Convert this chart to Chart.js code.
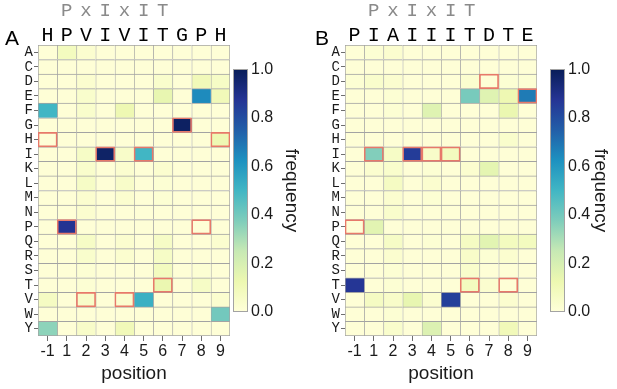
<!DOCTYPE html>
<html>
<head>
<meta charset="utf-8">
<script src="https://cdn.jsdelivr.net/npm/chart.js@4/dist/chart.umd.min.js"></script>
<style>
  body { margin: 0; background: #fff; }
  #wrap { position: relative; width: 617px; height: 389px; overflow: hidden; }
  #wrap canvas { position: absolute; top: 0; }
  .tag { position: absolute; top: 26px; font: 21px 'Liberation Sans', Arial, sans-serif; color: #000; }
</style>
</head>
<body>
<div id="wrap">
  <canvas id="chartA" width="308" height="389" style="left:0"></canvas>
  <canvas id="chartB" width="309" height="389" style="left:308px"></canvas>
  <div class="tag" style="left:5px">A</div>
  <div class="tag" style="left:315px">B</div>
</div>
<script>
var aminoAcids = ['A', 'C', 'D', 'E', 'F', 'G', 'H', 'I', 'K', 'L', 'M', 'N', 'P', 'Q', 'R', 'S', 'T', 'V', 'W', 'Y'];
var positions = ['-1', '1', '2', '3', '4', '5', '6', '7', '8', '9'];
var motifLabels = ['', 'P', 'x', 'I', 'x', 'I', 'T', '', '', ''];
var colorbarTicks = [0, 0.2, 0.4, 0.6, 0.8, 1.0];

var sequenceA = ['H', 'P', 'V', 'I', 'V', 'I', 'T', 'G', 'P', 'H'];
var sequenceB = ['P', 'I', 'A', 'I', 'I', 'I', 'T', 'D', 'T', 'E'];
// residues outlined in red (one per position, '' = none)
var boxedA = ['H', 'P', 'V', 'I', 'V', 'I', 'T', 'G', 'P', 'H'];
var boxedB = ['P', 'I', '', 'I', 'I', 'I', 'T', 'D', 'T', 'E'];

// frequency per amino acid (rows) and position (columns -1..9)
var freqA = [
  [0.01, 0.08, 0.03, 0.01, 0.01, 0.01, 0.01, 0.01, 0.01, 0.01], // A
  [0.01, 0.01, 0.01, 0.01, 0.01, 0.01, 0.01, 0.01, 0.01, 0.01], // C
  [0.01, 0.01, 0.03, 0.01, 0.01, 0.01, 0.04, 0.01, 0.10, 0.06], // D
  [0.01, 0.01, 0.04, 0.01, 0.01, 0.01, 0.14, 0.01, 0.64, 0.10], // E
  [0.50, 0.01, 0.04, 0.01, 0.12, 0.01, 0.01, 0.01, 0.01, 0.01], // F
  [0.01, 0.01, 0.01, 0.01, 0.01, 0.01, 0.01, 0.98, 0.01, 0.01], // G
  [0.01, 0.01, 0.01, 0.01, 0.01, 0.01, 0.01, 0.01, 0.01, 0.12], // H
  [0.01, 0.01, 0.06, 0.97, 0.05, 0.50, 0.01, 0.01, 0.01, 0.01], // I
  [0.01, 0.01, 0.04, 0.01, 0.03, 0.01, 0.03, 0.01, 0.01, 0.01], // K
  [0.01, 0.01, 0.06, 0.01, 0.05, 0.01, 0.02, 0.01, 0.01, 0.01], // L
  [0.01, 0.01, 0.03, 0.01, 0.03, 0.01, 0.02, 0.01, 0.01, 0.01], // M
  [0.01, 0.01, 0.03, 0.01, 0.01, 0.01, 0.01, 0.01, 0.01, 0.01], // N
  [0.01, 0.88, 0.01, 0.01, 0.01, 0.01, 0.01, 0.01, 0.01, 0.01], // P
  [0.01, 0.01, 0.06, 0.01, 0.03, 0.01, 0.06, 0.01, 0.01, 0.03], // Q
  [0.01, 0.01, 0.04, 0.01, 0.03, 0.01, 0.06, 0.01, 0.01, 0.01], // R
  [0.01, 0.01, 0.02, 0.01, 0.01, 0.01, 0.08, 0.01, 0.02, 0.01], // S
  [0.01, 0.01, 0.02, 0.01, 0.01, 0.01, 0.13, 0.01, 0.06, 0.01], // T
  [0.07, 0.01, 0.05, 0.01, 0.03, 0.52, 0.01, 0.01, 0.01, 0.03], // V
  [0.01, 0.01, 0.01, 0.01, 0.01, 0.01, 0.01, 0.01, 0.01, 0.40], // W
  [0.35, 0.01, 0.05, 0.01, 0.10, 0.01, 0.01, 0.01, 0.01, 0.01]  // Y
];
var freqB = [
  [0.01, 0.02, 0.03, 0.01, 0.01, 0.01, 0.01, 0.01, 0.01, 0.01], // A
  [0.01, 0.01, 0.01, 0.01, 0.01, 0.01, 0.01, 0.01, 0.01, 0.01], // C
  [0.02, 0.04, 0.03, 0.01, 0.01, 0.01, 0.03, 0.01, 0.02, 0.02], // D
  [0.01, 0.01, 0.02, 0.01, 0.01, 0.01, 0.39, 0.17, 0.12, 0.68], // E
  [0.01, 0.01, 0.02, 0.01, 0.17, 0.01, 0.01, 0.01, 0.13, 0.01], // F
  [0.01, 0.01, 0.01, 0.01, 0.01, 0.01, 0.01, 0.01, 0.01, 0.01], // G
  [0.01, 0.01, 0.01, 0.01, 0.01, 0.01, 0.01, 0.01, 0.04, 0.01], // H
  [0.01, 0.37, 0.06, 0.85, 0.05, 0.08, 0.01, 0.01, 0.01, 0.01], // I
  [0.01, 0.03, 0.04, 0.01, 0.02, 0.01, 0.03, 0.15, 0.01, 0.01], // K
  [0.01, 0.01, 0.07, 0.01, 0.03, 0.01, 0.01, 0.01, 0.01, 0.01], // L
  [0.01, 0.01, 0.03, 0.01, 0.02, 0.01, 0.01, 0.01, 0.01, 0.01], // M
  [0.01, 0.01, 0.04, 0.01, 0.01, 0.01, 0.01, 0.01, 0.01, 0.01], // N
  [0.01, 0.16, 0.01, 0.01, 0.01, 0.01, 0.01, 0.01, 0.01, 0.01], // P
  [0.01, 0.01, 0.06, 0.01, 0.02, 0.01, 0.07, 0.16, 0.08, 0.08], // Q
  [0.01, 0.01, 0.03, 0.01, 0.01, 0.01, 0.05, 0.02, 0.03, 0.01], // R
  [0.01, 0.01, 0.02, 0.01, 0.01, 0.01, 0.04, 0.01, 0.01, 0.01], // S
  [0.87, 0.01, 0.02, 0.01, 0.01, 0.01, 0.08, 0.03, 0.01, 0.01], // T
  [0.01, 0.07, 0.05, 0.14, 0.03, 0.84, 0.01, 0.01, 0.03, 0.01], // V
  [0.01, 0.01, 0.02, 0.01, 0.01, 0.01, 0.01, 0.01, 0.01, 0.01], // W
  [0.01, 0.01, 0.04, 0.01, 0.18, 0.01, 0.01, 0.01, 0.10, 0.01]  // Y
];

var ylgnbu = ['#ffffd9', '#edf8b1', '#c7e9b4', '#7fcdbb', '#41b6c4', '#1d91c0', '#225ea8', '#253494', '#081d58'];
var sans = "'Liberation Sans', Arial, sans-serif";
var mono = "'Liberation Mono', 'DejaVu Sans Mono', monospace";
var gridGray = '#a3a3a3';

function hexRgb(h) {
  return [parseInt(h.substr(1, 2), 16), parseInt(h.substr(3, 2), 16), parseInt(h.substr(5, 2), 16)];
}

function heatColor(v) {
  var t = Math.max(0, Math.min(1, v)) * (ylgnbu.length - 1);
  var i = Math.min(Math.floor(t), ylgnbu.length - 2);
  var f = t - i;
  var a = hexRgb(ylgnbu[i]), b = hexRgb(ylgnbu[i + 1]);
  return 'rgb(' + [0, 1, 2].map(function (k) { return Math.round(a[k] + (b[k] - a[k]) * f); }).join(',') + ')';
}

// draws the colour scale next to the plot, using the 'cb' axis for its extent
var colorbarPlugin = {
  id: 'colorbar',
  afterDraw: function (chart, args, opts) {
    var cb = chart.scales.cb;
    var ctx = chart.ctx;
    var x0 = chart.chartArea.right + opts.gap;
    var top = cb.getPixelForValue(1);
    var bottom = cb.getPixelForValue(0);
    var g = ctx.createLinearGradient(0, bottom, 0, top);
    ylgnbu.forEach(function (c, i) { g.addColorStop(i / (ylgnbu.length - 1), c); });
    ctx.save();
    ctx.fillStyle = g;
    ctx.fillRect(x0, top, opts.width, bottom - top);
    ctx.strokeStyle = gridGray;
    ctx.lineWidth = 1;
    ctx.strokeRect(Math.round(x0) + 0.5, Math.round(top) + 0.5, opts.width - 1, Math.round(bottom - top) - 1);
    ctx.restore();
  }
};

function columnTicks(scale) {
  scale.ticks = positions.map(function (p, i) { return { value: i }; });
}

function makeHeatmap(canvasId, freq, sequence, boxed, layout) {
  var last = positions.length - 1;
  var datasets = [{
    label: 'residue',
    order: -1,
    xAxisID: 'x',
    yAxisID: 'y',
    data: boxed.map(function (aa, c) {
      return aa ? { x: [c - 0.5, c + 0.5], y: aa } : null;
    }).filter(Boolean),
    backgroundColor: 'rgba(0,0,0,0)',
    borderColor: '#e7796a',
    borderWidth: 1,
    borderSkipped: false
  }];

  positions.forEach(function (p, c) {
    datasets.push({
      label: p,
      xAxisID: 'x',
      yAxisID: 'y',
      data: aminoAcids.map(function () { return [c - 0.5, c + 0.5]; }),
      backgroundColor: aminoAcids.map(function (aa, r) { return heatColor(freq[r][c]); }),
      borderColor: gridGray,
      borderWidth: function (ctx) {
        return {
          top: 1,
          left: 1,
          right: c === last ? 1 : 0,
          bottom: ctx.dataIndex === aminoAcids.length - 1 ? 1 : 0
        };
      },
      borderSkipped: false
    });
  });

  var width = document.getElementById(canvasId).width;

  return new Chart(document.getElementById(canvasId), {
    type: 'bar',
    data: { labels: aminoAcids, datasets: datasets },
    plugins: [colorbarPlugin],
    options: {
      responsive: false,
      animation: false,
      indexAxis: 'y',
      layout: { padding: 0 },
      datasets: { bar: { barPercentage: 1, categoryPercentage: 1, grouped: false } },
      plugins: {
        legend: { display: false },
        tooltip: { enabled: false },
        colorbar: { gap: layout.cbGap, width: 15 }
      },
      scales: {
        x: {
          type: 'linear',
          position: 'bottom',
          min: -0.5,
          max: 9.5,
          bounds: 'data',
          afterBuildTicks: columnTicks,
          ticks: {
            autoSkip: false,
            maxRotation: 0,
            padding: 1,
            color: '#1a1a1a',
            font: { family: sans, size: 16 },
            callback: function (v) { return positions[Math.round(v)]; }
          },
          grid: { drawOnChartArea: false, tickLength: 5, tickColor: '#6e6e6e' },
          border: { display: false },
          title: {
            display: true,
            text: 'position',
            color: '#1a1a1a',
            font: { family: sans, size: 19 },
            padding: { top: 0, bottom: 4 }
          },
          afterFit: function (s) { s.height = 389 - 336; }
        },
        seq: {
          type: 'linear',
          position: 'top',
          weight: 1,
          min: -0.5,
          max: 9.5,
          bounds: 'data',
          afterBuildTicks: columnTicks,
          ticks: {
            autoSkip: false,
            maxRotation: 0,
            padding: -3,
            color: '#000',
            font: { family: mono, size: 20 },
            callback: function (v) { return sequence[Math.round(v)]; }
          },
          grid: { display: false, drawTicks: false },
          border: { display: false },
          afterFit: function (s) { s.height = 22; }
        },
        motif: {
          type: 'linear',
          position: 'top',
          weight: 2,
          min: -0.5,
          max: 9.5,
          bounds: 'data',
          afterBuildTicks: columnTicks,
          ticks: {
            autoSkip: false,
            maxRotation: 0,
            padding: 1,
            color: '#8a8a8a',
            font: { family: mono, size: 19 },
            callback: function (v) { return motifLabels[Math.round(v)]; }
          },
          grid: { display: false, drawTicks: false },
          border: { display: false },
          afterFit: function (s) { s.height = 23; }
        },
        y: {
          type: 'category',
          position: 'left',
          labels: aminoAcids,
          offset: true,
          ticks: {
            autoSkip: false,
            padding: 1,
            color: '#1a1a1a',
            font: { family: mono, size: 14 }
          },
          grid: { offset: false, drawOnChartArea: false, tickLength: 4, tickColor: '#6e6e6e' },
          border: { display: false },
          afterFit: function (s) { s.width = layout.left; }
        },
        cb: {
          type: 'linear',
          position: 'right',
          min: 0,
          max: 1,
          bounds: 'data',
          afterBuildTicks: function (s) {
            s.ticks = colorbarTicks.map(function (v) { return { value: v }; });
          },
          ticks: {
            padding: layout.cbGap + 18,
            color: '#1a1a1a',
            font: { family: sans, size: 16 },
            callback: function (v) { return v.toFixed(1); }
          },
          grid: { display: false, drawTicks: false },
          border: { display: false },
          title: {
            display: true,
            text: 'frequency',
            color: '#1a1a1a',
            font: { family: sans, size: 19 },
            padding: { top: 5, bottom: 0 }
          },
          afterFit: function (s) { s.width = width - layout.right; }
        }
      }
    }
  });
}

makeHeatmap('chartA', freqA, sequenceA, boxedA, { left: 38, right: 230, cbGap: 3 });
makeHeatmap('chartB', freqB, sequenceB, boxedB, { left: 37, right: 229, cbGap: 13 });
</script>
</body>
</html>
